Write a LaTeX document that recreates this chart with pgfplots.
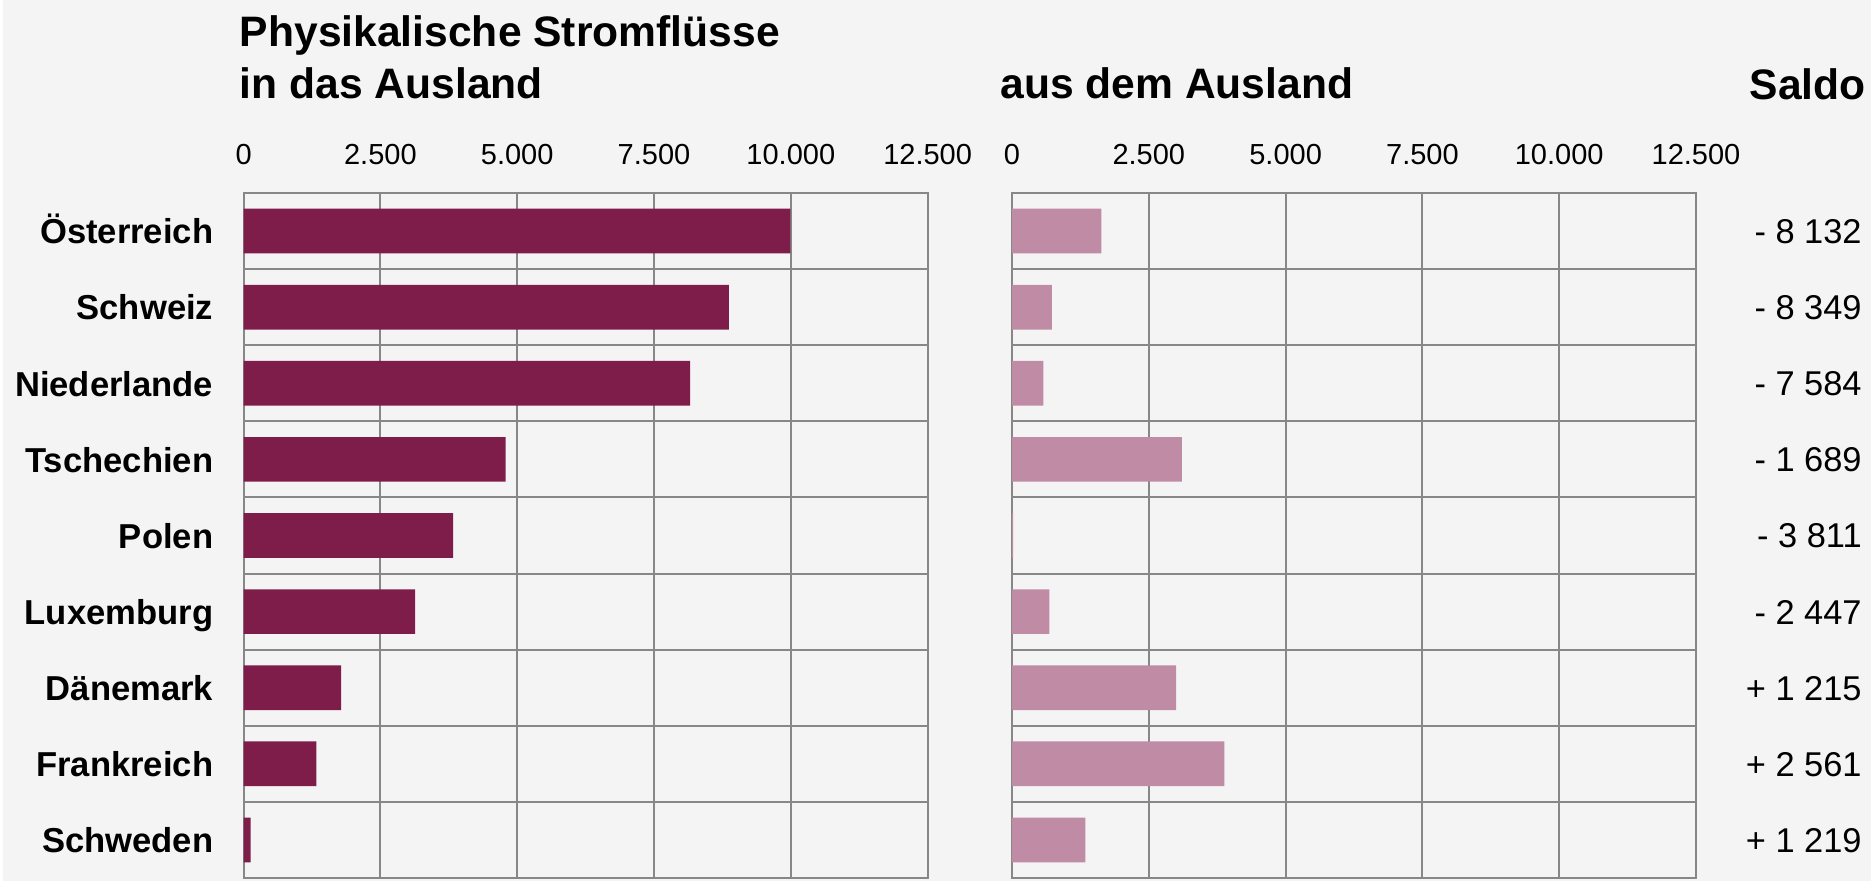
\documentclass[border=0pt]{standalone}
\usepackage{pgfplots}
\pgfplotsset{compat=1.18}
\usepackage{fontspec}
\setmainfont{Liberation Sans}

\definecolor{bg}{HTML}{F4F4F4}
\definecolor{darkbar}{HTML}{7E1C4A}
\definecolor{lightbar}{HTML}{C08BA5}
\definecolor{gridgray}{HTML}{878787}

\pgfplotsset{
  stromaxis/.style={
    xbar,
    bar width=22.35pt,
    scale only axis,
    width=342pt, height=342.5pt,
    anchor=north west,
    xmin=0, xmax=12500,
    ymin=-0.5, ymax=8.5,
    y dir=reverse,
    xtick={0,2500,...,12500},
    scaled x ticks=false,
    xticklabel pos=right,
    ytick={0,...,8},
    minor ytick={0.5,1.5,...,7.5},
    major tick length=0pt, minor tick length=0pt,
    tick style={draw=none},
    xmajorgrids=true, ymajorgrids=false, yminorgrids=true,
    grid style={gridgray, line width=0.95pt},
    minor grid style={gridgray, line width=0.95pt},
    axis line style={gridgray, line width=0.95pt},
    xticklabel style={font=\fontsize{14.5}{17}\selectfont, anchor=base, inner sep=0pt, yshift=14pt},
    /pgf/number format/.cd, 1000 sep={.}, assume math mode=true,
  }
}

\begin{document}
\begin{tikzpicture}[x=0.5pt,y=0.5pt]
\fill[bg] (0,0) rectangle (1871,881);
\fill[white] (0,0) rectangle (3,881);
\useasboundingbox (0,0) rectangle (1871,881);

% titles
\node[anchor=base west, inner sep=0pt, font=\bfseries\fontsize{21.3}{25}\selectfont] at (239.5,834.3) {Physikalische Stromflüsse};
\node[anchor=base west, inner sep=0pt, font=\bfseries\fontsize{21.3}{25}\selectfont] at (239.5,782) {in das Ausland};
\node[anchor=base west, inner sep=0pt, font=\bfseries\fontsize{21.3}{25}\selectfont] at (1000,782) {aus dem Ausland};
\node[anchor=base east, inner sep=0pt, font=\bfseries\fontsize{21.3}{25}\selectfont] at (1866,781) {Saldo};

% in das Ausland
\begin{axis}[stromaxis,
  at={(121.8pt,344pt)},
  yticklabels={Österreich, Schweiz, Niederlande, Tschechien, Polen, Luxemburg, Dänemark, Frankreich, Schweden},
  yticklabel style={font=\bfseries\fontsize{17.3}{20}\selectfont, anchor=base east, inner sep=0pt, xshift=-15pt, yshift=-6.4pt},
]
\addplot[fill=darkbar, draw=none] coordinates {
  (9990,0) (8868,1) (8160,2) (4789,3) (3831,4) (3133,5) (1782,6) (1328,7) (128,8)
};
\end{axis}

% aus dem Ausland
\begin{axis}[stromaxis,
  at={(506pt,344pt)},
  yticklabel pos=right,
  yticklabels={- 8 132, - 8 349, - 7 584, - 1 689, - 3 811, - 2 447, + 1 215, + 2 561, + 1 219},
  yticklabel style={font=\fontsize{17.2}{20}\selectfont, anchor=base east, inner sep=0pt, xshift=83pt, yshift=-6.2pt},
]
\addplot[fill=lightbar, draw=none] coordinates {
  (1632,0) (728,1) (574,2) (3105,3) (20,4) (684,5) (3000,6) (3882,7) (1341,8)
};
\end{axis}
\end{tikzpicture}
\end{document}
